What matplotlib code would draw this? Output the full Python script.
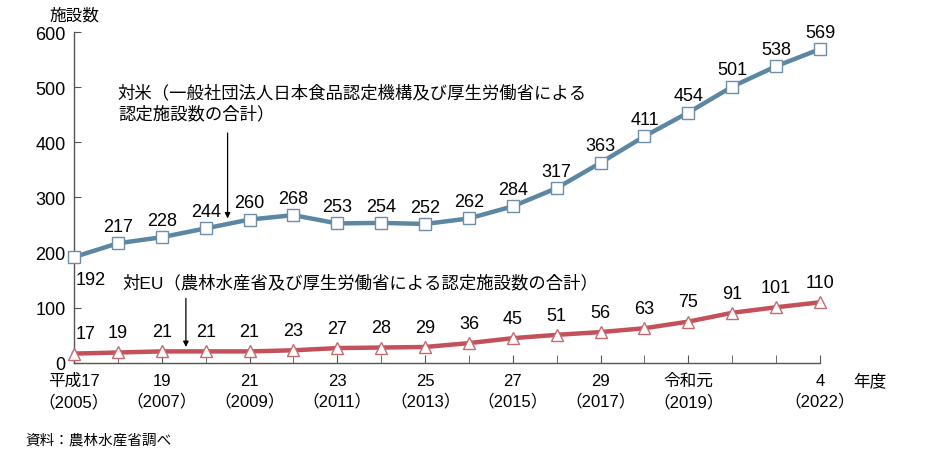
import numpy as np
import matplotlib.pyplot as plt

plt.rcParams['font.family'] = ['Liberation Sans', 'Noto Sans CJK JP', 'DejaVu Sans']

years = list(range(2005, 2023))
us_counts = [192, 217, 228, 244, 260, 268, 253, 254, 252, 262, 284, 317, 363, 411, 454, 501, 538, 569]
eu_counts = [17, 19, 21, 21, 21, 23, 27, 28, 29, 36, 45, 51, 56, 63, 75, 91, 101, 110]
tick_years = [2005, 2007, 2009, 2011, 2013, 2015, 2017, 2019, 2022]
tick_labels = ['平成17\n（2005）', '19\n（2007）', '21\n（2009）', '23\n（2011）', '25\n（2013）',
               '27\n（2015）', '29\n（2017）', '令和元\n（2019）', '4\n（2022）']

blue = '#5b87a3'
red = '#c4505a'
fs = 12
nfs = 13   # numbers look a bit wider in the original

fig = plt.figure(figsize=(9.25, 4.56), dpi=100)
ax = fig.add_axes([0.08, 0.2018, 0.8065, 0.7258])

ax.plot(years, us_counts, color=blue, lw=3.2, marker='s', ms=8,
        mfc='white', mec='#6d8ea6', mew=1, zorder=3, clip_on=False)
ax.plot(years, eu_counts, color=red, lw=3.2, marker='^', ms=8.5,
        mfc='white', mec='#c66a72', mew=1, zorder=3, clip_on=False)

for x, v in zip(years, us_counts):
    if x == 2005:
        ax.annotate(str(v), (x, v), xytext=(1, -10), textcoords='offset points',
                    ha='left', va='top', fontsize=nfs)
    else:
        ax.annotate(str(v), (x, v), xytext=(0, 6), textcoords='offset points',
                    ha='center', va='bottom', fontsize=nfs)
for x, v in zip(years, eu_counts):
    if x == 2005:
        ax.annotate(str(v), (x, v), xytext=(1, 8), textcoords='offset points',
                    ha='left', va='bottom', fontsize=nfs)
    else:
        ax.annotate(str(v), (x, v), xytext=(0, 8), textcoords='offset points',
                    ha='center', va='bottom', fontsize=nfs)

# arrows pointing from the notes to each series
ax.annotate('', xy=(2008.5, 257), xytext=(2008.5, 422),
            arrowprops=dict(arrowstyle='-|>', color='black', lw=0.9, mutation_scale=8))
ax.text(2006.0, 438, '対米（一般社団法人日本食品認定機構及び厚生労働省による\n認定施設数の合計）',
        fontsize=12.5, ha='left', va='bottom', linespacing=1.3)
ax.annotate('', xy=(2007.55, 24), xytext=(2007.55, 122),
            arrowprops=dict(arrowstyle='-|>', color='black', lw=0.9, mutation_scale=8))
ax.text(2006.1, 147, '対EU（農林水産省及び厚生労働省による認定施設数の合計）',
        fontsize=12.5, ha='left', va='center')

ax.set_xlim(2005, 2022)
ax.set_ylim(0, 600)
ax.set_yticks(range(0, 601, 100))
ax.set_xticks(tick_years)
ax.set_xticklabels(tick_labels, fontsize=fs, linespacing=1.4)
ax.set_xticks(years, minor=True)
ax.tick_params(axis='y', labelsize=nfs, direction='in', length=5, color='#555555', pad=6)
ax.tick_params(axis='x', which='both', direction='in', length=6, color='#555555', pad=7)
for s in ['top', 'right']:
    ax.spines[s].set_visible(False)
for s in ['left', 'bottom']:
    ax.spines[s].set_color('#555555')
    ax.spines[s].set_linewidth(1)

fig.text(0.08, 0.965, '施設数', fontsize=fs, ha='center', va='center')
fig.text(0.94, 0.165, '年度', fontsize=fs, ha='center', va='center')
fig.text(0.027, 0.035, '資料：農林水産省調べ', fontsize=10.5, ha='left', va='center')

fig.savefig('out.png', dpi=100)
